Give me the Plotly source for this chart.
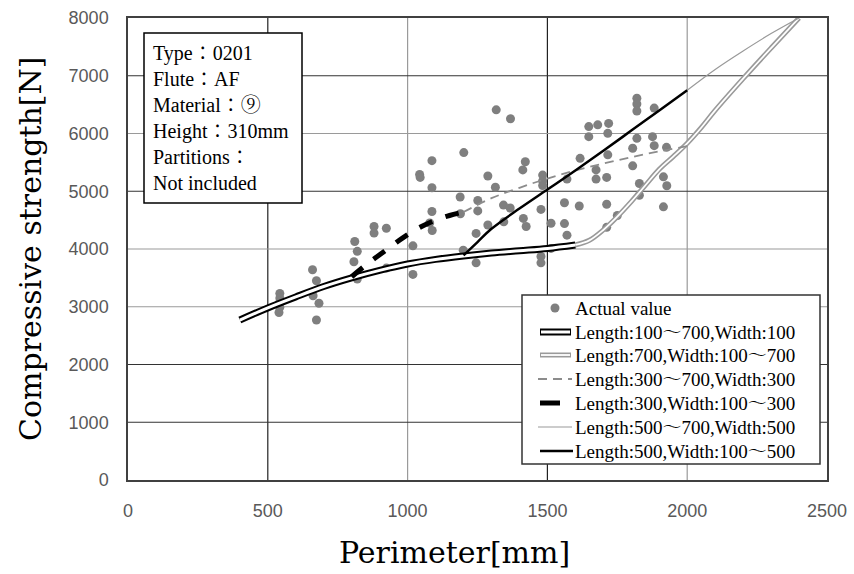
import plotly.graph_objects as go

# ---------------- data ----------------
actual_x = [543, 543, 543, 543, 540,
            660, 674, 662, 683, 674,
            811, 820, 808, 820,
            880, 880, 924, 924,
            1019, 1019,
            1043, 1045, 1087, 1087, 1087, 1079, 1088,
            1188, 1189, 1201, 1199, 1245, 1245, 1251, 1251,
            1287, 1287, 1317, 1368, 1314, 1343, 1367, 1344,
            1421, 1412, 1414, 1424,
            1483, 1483, 1483, 1477, 1477, 1477, 1513, 1513,
            1561, 1561, 1570, 1570,
            1617, 1614, 1648, 1680, 1719, 1648, 1716, 1716,
            1674, 1674, 1712, 1712, 1712, 1750,
            1820, 1820, 1820, 1882,
            1820, 1876, 1882, 1926, 1805, 1805,
            1829, 1829, 1915, 1927, 1915]
actual_y = [3230, 3150, 3080, 2990, 2900,
            3640, 3450, 3190, 3060, 2770,
            4130, 3960, 3780, 3480,
            4390, 4275, 4360, 3670,
            4055, 3560,
            5290, 5240, 5530, 5060, 4650, 4450, 4320,
            4900, 4610, 5670, 3980, 3760, 4270, 4660, 4840,
            5265, 4415, 6410, 6255, 5070, 4760, 4710, 4470,
            5510, 5370, 4530, 4390,
            5280, 5180, 5100, 4685, 3870, 3760, 4445, 4010,
            4800, 4440, 4240, 5210,
            5570, 4745, 6120, 6150, 6175, 5945, 6003, 5630,
            5370, 5210, 5240, 4775, 4375, 4580,
            6610, 6510, 6390, 6440,
            5916, 5945, 5790, 5760, 5745, 5440,
            5135, 4930, 5250, 5095, 4730]

# Length:100~700, Width:100
c1_x = [400, 500, 600, 700, 800, 900, 1000, 1100, 1200, 1300, 1400, 1500, 1600]
c1_y = [2770, 2980, 3170, 3350, 3500, 3630, 3740, 3820, 3880, 3930, 3970, 4010, 4070]
# Length:700, Width:100~700
c2_x = [1600, 1650, 1700, 1750, 1800, 1850, 1900, 1950, 2000, 2050, 2100, 2200, 2300, 2400]
c2_y = [4070, 4150, 4330, 4560, 4820, 5100, 5380, 5600, 5830, 6100, 6400, 6950, 7480, 8000]
# Length:300~700, Width:300
c3_x = [1200, 1300, 1400, 1500, 1600, 1700, 1800, 1900, 2000]
c3_y = [4640, 4880, 5060, 5220, 5360, 5480, 5590, 5690, 5780]
# Length:300, Width:100~300
c4_x = [800, 850, 900, 950, 1000, 1050, 1100, 1150, 1200]
c4_y = [3520, 3720, 3900, 4080, 4250, 4390, 4500, 4580, 4640]
# Length:500~700, Width:500
c5_x = [2000, 2100, 2200, 2300, 2400]
c5_y = [6750, 7110, 7430, 7730, 8000]
# Length:500, Width:100~500
c6_x = [1200, 1250, 1300, 1400, 1500, 1600, 1700, 1800, 1900, 2000]
c6_y = [3890, 4120, 4350, 4700, 5030, 5360, 5700, 6050, 6400, 6750]

x_ticks = [0, 500, 1000, 1500, 2000, 2500]
y_ticks = [0, 1000, 2000, 3000, 4000, 5000, 6000, 7000, 8000]

legend_labels = ["Actual value",
                 "Length:100～700,Width:100",
                 "Length:700,Width:100～700",
                 "Length:300～700,Width:300",
                 "Length:300,Width:100～300",
                 "Length:500～700,Width:500",
                 "Length:500,Width:100～500"]
info_lines = ["Type：0201", "Flute：AF", "Material：⑨", "Height：310mm",
              "Partitions：", "Not included"]

# ---------------- layout geometry ----------------
W, H = 854, 574
ML, MR, MT, MB = 128, 27, 18, 94
PW, PH = W - ML - MR, H - MT - MB


def px(xp):
    return (xp - ML) / PW


def py(yp):
    return (H - MB - yp) / PH


SERIF = "Liberation Serif, Noto Serif CJK JP, Noto Sans CJK JP, serif"
TITLE_FONT = "DejaVu Serif, serif"

fig = go.Figure()

fig.add_trace(go.Scatter(x=actual_x, y=actual_y, mode="markers",
                         marker=dict(color="#7f7f7f", size=9), showlegend=False))

# double black line
fig.add_trace(go.Scatter(x=c1_x, y=c1_y, mode="lines", line=dict(color="black", width=7, shape="spline"), showlegend=False))
fig.add_trace(go.Scatter(x=c1_x, y=c1_y, mode="lines", line=dict(color="white", width=3, shape="spline"), showlegend=False))
# double gray line
fig.add_trace(go.Scatter(x=c2_x, y=c2_y, mode="lines", line=dict(color="#9a9a9a", width=5, shape="spline"), showlegend=False))
fig.add_trace(go.Scatter(x=c2_x, y=c2_y, mode="lines", line=dict(color="white", width=1.8, shape="spline"), showlegend=False))
# gray dashed
fig.add_trace(go.Scatter(x=c3_x, y=c3_y, mode="lines", line=dict(color="#8c8c8c", width=1.8, dash="9px,6px", shape="spline"), showlegend=False))
# black thick dashed
fig.add_trace(go.Scatter(x=c4_x, y=c4_y, mode="lines", line=dict(color="black", width=5, dash="14px,14px", shape="spline"), showlegend=False))
# thin gray
fig.add_trace(go.Scatter(x=c5_x, y=c5_y, mode="lines", line=dict(color="#999999", width=1.2, shape="spline"), showlegend=False))
# black solid
fig.add_trace(go.Scatter(x=c6_x, y=c6_y, mode="lines", line=dict(color="black", width=2.5, shape="spline"), showlegend=False))

shapes = []
# grid lines
xgrid_colors = {500: "#222222", 1000: "#9a9a9a", 1500: "#222222", 2000: "#9a9a9a"}
for xv in x_ticks[1:-1]:
    shapes.append(dict(type="line", xref="x", yref="paper", x0=xv, x1=xv, y0=0, y1=1,
                       line=dict(color=xgrid_colors[xv], width=1.2), layer="below"))
ygrid_colors = {1000: "#333333", 2000: "#333333", 3000: "#9a9a9a", 4000: "#9a9a9a",
                5000: "#333333", 6000: "#9a9a9a", 7000: "#333333"}
for yv in y_ticks[1:-1]:
    shapes.append(dict(type="line", xref="paper", yref="y", x0=0, x1=1, y0=yv, y1=yv,
                       line=dict(color=ygrid_colors[yv], width=1.2), layer="below"))

# info box
shapes.append(dict(type="rect", xref="paper", yref="paper", x0=px(144), x1=px(302), y0=py(203), y1=py(33),
                   line=dict(color="black", width=1.5), fillcolor="white", layer="above"))
# legend box
shapes.append(dict(type="rect", xref="paper", yref="paper", x0=px(522), x1=px(820), y0=py(464), y1=py(295),
                   line=dict(color="#333333", width=1.5), fillcolor="white", layer="above"))

row_y = [308, 332, 355, 379, 403, 427, 451]
# legend symbols
shapes.append(dict(type="circle", xref="paper", yref="paper", x0=px(550.5), x1=px(559.5),
                   y0=py(row_y[0] + 4.5), y1=py(row_y[0] - 4.5), fillcolor="#7f7f7f",
                   line=dict(width=0), layer="above"))


def seg(x0, x1, yy, color, width, dash="solid"):
    shapes.append(dict(type="line", xref="paper", yref="paper", x0=px(x0), x1=px(x1), y0=py(yy), y1=py(yy),
                       line=dict(color=color, width=width, dash=dash), layer="above"))


seg(540, 571, row_y[1], "black", 7)
seg(541, 570, row_y[1], "white", 3)
seg(540, 571, row_y[2], "#9a9a9a", 5)
seg(541, 570, row_y[2], "white", 1.8)
seg(538, 572, row_y[3], "#8c8c8c", 1.8, "9px,6px")
seg(540, 560, row_y[4], "black", 5)
seg(538, 572, row_y[5], "#999999", 1.2)
seg(540, 573, row_y[6], "black", 2.5)

annotations = []
for lbl, yy in zip(legend_labels, row_y):
    annotations.append(dict(xref="paper", yref="paper", x=px(573), y=py(yy), text=lbl, showarrow=False,
                            xanchor="left", yanchor="middle", font=dict(family=SERIF, size=19, color="black")))

annotations.append(dict(xref="paper", yref="paper", x=px(151), y=py(40), text="<br>".join(info_lines),
                        showarrow=False, xanchor="left", yanchor="top", align="left",
                        font=dict(family=SERIF, size=20, color="black")))

# axis titles
annotations.append(dict(xref="paper", yref="paper", x=px(454), y=py(552), text="Perimeter[mm]",
                        showarrow=False, xanchor="center", yanchor="middle",
                        font=dict(family=TITLE_FONT, size=30, color="black")))
annotations.append(dict(xref="paper", yref="paper", x=px(30), y=py(249), text="Compressive strength[N]",
                        showarrow=False, xanchor="center", yanchor="middle", textangle=-90,
                        font=dict(family=TITLE_FONT, size=30, color="black")))

fig.update_layout(
    width=W, height=H,
    margin=dict(l=ML, r=MR, t=MT, b=MB, autoexpand=False),
    paper_bgcolor="white", plot_bgcolor="white",
    shapes=shapes, annotations=annotations,
    showlegend=False,
)
fig.update_xaxes(range=[0, 2500], tickvals=x_ticks, showgrid=False, zeroline=False,
                 showline=True, mirror=True, linecolor="#404040", linewidth=1.5,
                 ticks="", ticklabelstandoff=14,
                 tickfont=dict(family="Liberation Sans, Arial, sans-serif", size=18, color="#595959"))
fig.update_yaxes(range=[0, 8000], tickvals=y_ticks, showgrid=False, zeroline=False,
                 showline=True, mirror=True, linecolor="#404040", linewidth=1.5,
                 ticks="", ticklabelstandoff=14,
                 tickfont=dict(family="Liberation Sans, Arial, sans-serif", size=18, color="#595959"))

fig.write_html("out.html")
